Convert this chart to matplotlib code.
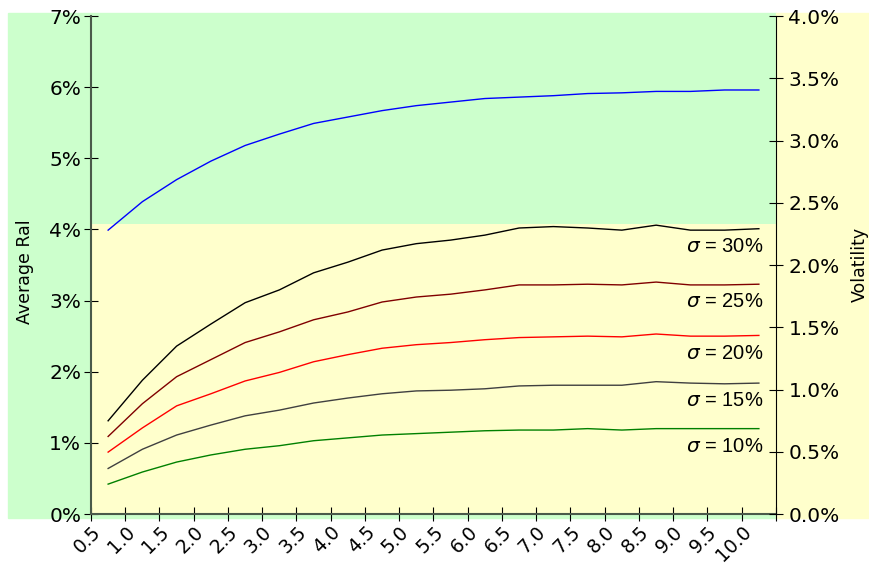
import numpy as np
import matplotlib
matplotlib.use("Agg")
import matplotlib.pyplot as plt
from matplotlib.patches import Rectangle
from matplotlib.ticker import FuncFormatter, MultipleLocator

# horizon (years) at the middle of each half-year bucket
horizon = [0.75, 1.25, 1.75, 2.25, 2.75, 3.25, 3.75, 4.25, 4.75, 5.25,
           5.75, 6.25, 6.75, 7.25, 7.75, 8.25, 8.75, 9.25, 9.75, 10.25]

avg_rate = [3.99, 4.39, 4.70, 4.96, 5.18, 5.34, 5.49, 5.58, 5.67, 5.74,
            5.79, 5.84, 5.86, 5.88, 5.91, 5.92, 5.94, 5.94, 5.96, 5.96]

sig30 = [1.31, 1.88, 2.36, 2.67, 2.97, 3.15, 3.39, 3.54, 3.71, 3.80,
         3.85, 3.92, 4.02, 4.04, 4.02, 3.99, 4.06, 3.99, 3.99, 4.01]
sig25 = [1.09, 1.55, 1.93, 2.17, 2.41, 2.56, 2.73, 2.84, 2.98, 3.05,
         3.09, 3.15, 3.22, 3.22, 3.23, 3.22, 3.26, 3.22, 3.22, 3.23]
sig20 = [0.87, 1.21, 1.52, 1.69, 1.87, 1.99, 2.14, 2.24, 2.33, 2.38,
         2.41, 2.45, 2.48, 2.49, 2.50, 2.49, 2.53, 2.50, 2.50, 2.51]
sig15 = [0.64, 0.91, 1.11, 1.25, 1.38, 1.46, 1.56, 1.63, 1.69, 1.73,
         1.74, 1.76, 1.80, 1.81, 1.81, 1.81, 1.86, 1.84, 1.83, 1.84]
sig10 = [0.42, 0.59, 0.73, 0.83, 0.91, 0.96, 1.03, 1.07, 1.11, 1.13,
         1.15, 1.17, 1.18, 1.18, 1.20, 1.18, 1.20, 1.20, 1.20, 1.20]

sigma_series = [(sig30, "black", "30%"), (sig25, "#800000", "25%"),
                (sig20, "red", "20%"), (sig15, "#404040", "15%"),
                (sig10, "green", "10%")]

GREEN = "#ccffcc"
YELLOW = "#ffffcc"
SPLIT = 4.08

W, H = 870, 569
fig = plt.figure(figsize=(W / 100, H / 100), dpi=100)

# background panels (figure pixels)
fig.patches.append(Rectangle((8 / W, (H - 518) / H), (776 - 8) / W, (518 - 13) / H,
                             transform=fig.transFigure, color=GREEN, zorder=-10))
fig.patches.append(Rectangle((776 / W, (H - 518) / H), (W - 776) / W, (518 - 13) / H,
                             transform=fig.transFigure, color=YELLOW, zorder=-10))

ax = fig.add_axes([91 / W, (H - 514) / H, 685 / W, 498 / H])
ax.patch.set_visible(False)
ax.axhspan(0, SPLIT, color=YELLOW, zorder=0, lw=0)

ax.plot(horizon, avg_rate, color="blue", lw=1)
for vals, col, lab in sigma_series:
    ax.plot(horizon, vals, color=col, lw=1)
    ax.text(10.31, vals[-1] - 0.25, r"$\sigma$ = " + lab, ha="right", va="center",
            fontsize=14.5, family="Liberation Sans")

ax.set_xlim(0.5, 10.5)
ax.set_ylim(0, 7)
ax.xaxis.set_major_locator(MultipleLocator(0.5))
ax.xaxis.set_major_formatter(FuncFormatter(lambda v, p: "" if v > 10.01 else f"{v:.1f}"))
ax.yaxis.set_major_formatter(FuncFormatter(lambda v, p: f"{v:.0f}%"))
ax.tick_params(axis="x", direction="inout", length=10, labelsize=13.5, pad=1)
ax.tick_params(axis="y", direction="inout", length=10, labelsize=14.5, pad=2)
for lbl in ax.get_xticklabels():
    lbl.set_rotation(45)
    lbl.set_ha("right")
    lbl.set_rotation_mode("anchor")

ax.spines["top"].set_visible(False)
ax.spines["right"].set_visible(False)
ax.spines["left"].set_color("#4a5a4a")
ax.spines["bottom"].set_color("#4a5a4a")
ax.spines["left"].set_linewidth(1.5)
ax.spines["bottom"].set_linewidth(1.5)

ax2 = ax.twinx()
ax2.set_ylim(0, 4)
ax2.yaxis.set_major_locator(MultipleLocator(0.5))
ax2.yaxis.set_major_formatter(FuncFormatter(lambda v, p: f"{v:.1f}%"))
ax2.tick_params(axis="y", direction="inout", length=10, labelsize=14.5, pad=4)
for s in ["top", "left", "bottom"]:
    ax2.spines[s].set_visible(False)
ax2.spines["right"].set_color("black")

fig.text(25 / W, 1 - 272 / H, "Average Ral", rotation=90, ha="center", va="center", fontsize=12.5)
fig.text(860 / W, 1 - 264 / H, "Volatility", rotation=90, ha="center", va="center", fontsize=12.5)

fig.savefig("out.png", dpi=100)
